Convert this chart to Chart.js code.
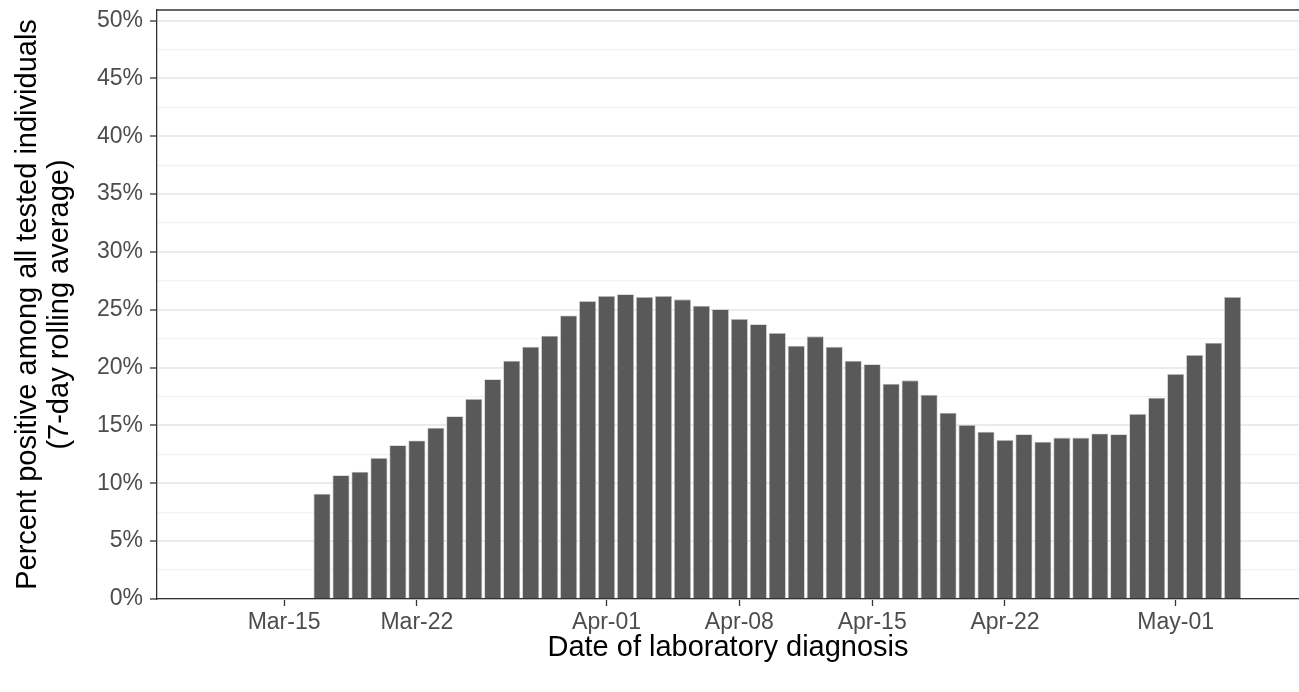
<!DOCTYPE html>
<html>
<head>
<meta charset="utf-8">
<script src="https://cdn.jsdelivr.net/npm/chart.js@4.4.1/dist/chart.umd.min.js"></script>
<style>
  html, body { margin: 0; padding: 0; background: #fff; }
  #wrap { width: 1299px; height: 692px; }
</style>
</head>
<body>
<div id="wrap"><canvas id="myChart" width="1299" height="692"></canvas></div>
<script>
// one bar per day, Mar-17 .. May-04 (2020)
const dates = [
    '2020-03-17', '2020-03-18', '2020-03-19', '2020-03-20', '2020-03-21', '2020-03-22', '2020-03-23',
    '2020-03-24', '2020-03-25', '2020-03-26', '2020-03-27', '2020-03-28', '2020-03-29', '2020-03-30',
    '2020-03-31', '2020-04-01', '2020-04-02', '2020-04-03', '2020-04-04', '2020-04-05', '2020-04-06',
    '2020-04-07', '2020-04-08', '2020-04-09', '2020-04-10', '2020-04-11', '2020-04-12', '2020-04-13',
    '2020-04-14', '2020-04-15', '2020-04-16', '2020-04-17', '2020-04-18', '2020-04-19', '2020-04-20',
    '2020-04-21', '2020-04-22', '2020-04-23', '2020-04-24', '2020-04-25', '2020-04-26', '2020-04-27',
    '2020-04-28', '2020-04-29', '2020-04-30', '2020-05-01', '2020-05-02', '2020-05-03', '2020-05-04',
];

// percent positive, 7-day rolling average
const percentPositive = [
    9.1, 10.7, 11.0, 12.2, 13.3, 13.7, 14.8,
    15.8, 17.3, 19.0, 20.6, 21.8, 22.75, 24.5,
    25.75, 26.2, 26.35, 26.1, 26.2, 25.9, 25.35,
    25.05, 24.2, 23.75, 23.0, 21.9, 22.7, 21.8,
    20.6, 20.3, 18.6, 18.9, 17.65, 16.1, 15.05,
    14.45, 13.75, 14.25, 13.6, 13.95, 13.95, 14.3,
    14.25, 16.0, 17.4, 19.45, 21.1, 22.15, 26.1,
];

const tickDates = ['2020-03-15', '2020-03-22', '2020-04-01', '2020-04-08', '2020-04-15', '2020-04-22', '2020-05-01'];
const tickLabels = ['Mar-15', 'Mar-22', 'Apr-01', 'Apr-08', 'Apr-15', 'Apr-22', 'May-01'];
const yTicks = [0, 5, 10, 15, 20, 25, 30, 35, 40, 45, 50];

function dayOf(s) {
    return Date.UTC(+s.slice(0, 4), +s.slice(5, 7) - 1, +s.slice(8, 10)) / 864e5;
}

const points = dates.map((d, i) => ({ x: dayOf(d), y: percentPositive[i] }));
const tickDays = tickDates.map(dayOf);
const origin = dayOf('2020-03-15');

const FONT = "'Liberation Sans', Arial, sans-serif";

// minor grid lines halfway between the labelled ones
const yGrid = [];
for (let i = 0; i < yTicks.length; i++) {
    yGrid.push(yTicks[i]);
    if (i < yTicks.length - 1) yGrid.push((yTicks[i] + yTicks[i + 1]) / 2);
}

const topBorder = {
    id: 'topBorder',
    afterDraw(chart) {
        const { ctx, chartArea } = chart;
        ctx.save();
        ctx.strokeStyle = '#333333';
        ctx.lineWidth = 1.3;
        ctx.beginPath();
        ctx.moveTo(chartArea.left, chartArea.top);
        ctx.lineTo(chartArea.right, chartArea.top);
        ctx.stroke();
        ctx.restore();
    }
};

const ctx = document.getElementById('myChart').getContext('2d');
new Chart(ctx, {
    type: 'bar',
    data: {
        datasets: [{
            label: 'Percent positive',
            data: points,
            backgroundColor: '#595959',
            borderColor: '#c4c4c4',
            borderWidth: 0.8,
            barPercentage: 0.9,
            categoryPercentage: 1.0,
        }]
    },
    options: {
        responsive: false,
        animation: false,
        layout: { padding: { top: 10, right: 0, left: 0, bottom: 0 } },
        plugins: {
            legend: { display: false },
            tooltip: { enabled: false },
        },
        scales: {
            x: {
                type: 'linear',
                offset: false,
                min: origin - 6.7,
                max: origin + 53.5,
                afterBuildTicks: (scale) => {
                    scale.ticks = tickDays.map(v => ({ value: v }));
                },
                afterFit: (scale) => {
                    scale.height = 93;
                    scale.paddingLeft = 0;
                    scale.paddingRight = 0;
                },
                grid: {
                    offset: false,
                    drawOnChartArea: false,
                    drawTicks: true,
                    tickLength: 7,
                    tickColor: '#333333',
                    tickWidth: 1.3,
                },
                border: { display: true, color: '#333333', width: 1.3 },
                ticks: {
                    autoSkip: false,
                    maxRotation: 0,
                    padding: 3,
                    color: '#4d4d4d',
                    font: { family: FONT, size: 23 },
                    callback: (value) => {
                        const i = tickDays.indexOf(value);
                        return i >= 0 ? tickLabels[i] : '';
                    },
                },
                title: {
                    display: true,
                    text: 'Date of laboratory diagnosis',
                    color: '#000000',
                    font: { family: FONT, size: 29, lineHeight: 1.1 },
                    padding: { top: 0, bottom: 28 },
                },
            },
            y: {
                min: 0,
                max: 50.91,
                afterBuildTicks: (scale) => {
                    scale.ticks = yGrid.map(v => ({ value: v }));
                },
                afterFit: (scale) => {
                    scale.width = 157;
                    scale.paddingTop = 0;
                    scale.paddingBottom = 0;
                },
                grid: {
                    color: (c) => (c.tick && c.tick.value % 5 === 0) ? '#ebebeb' : '#f2f2f2',
                    lineWidth: (c) => (c.tick && c.tick.value % 5 === 0) ? 2 : 1.2,
                    drawTicks: true,
                    tickLength: 7,
                    tickColor: (c) => (c.tick && c.tick.value % 5 === 0) ? '#333333' : 'rgba(0,0,0,0)',
                    tickWidth: 1.3,
                },
                border: { display: true, color: '#333333', width: 1.3 },
                ticks: {
                    autoSkip: false,
                    padding: 7,
                    color: '#4d4d4d',
                    font: { family: FONT, size: 23 },
                    callback: (value) => value % 5 === 0 ? value + '%' : '',
                },
                title: {
                    display: true,
                    text: ['Percent positive among all tested individuals', '(7-day rolling average)'],
                    color: '#000000',
                    font: { family: FONT, size: 29, lineHeight: 1.1 },
                    padding: { top: 12, bottom: 0 },
                },
            },
        },
    },
    plugins: [topBorder],
});
</script>
</body>
</html>
